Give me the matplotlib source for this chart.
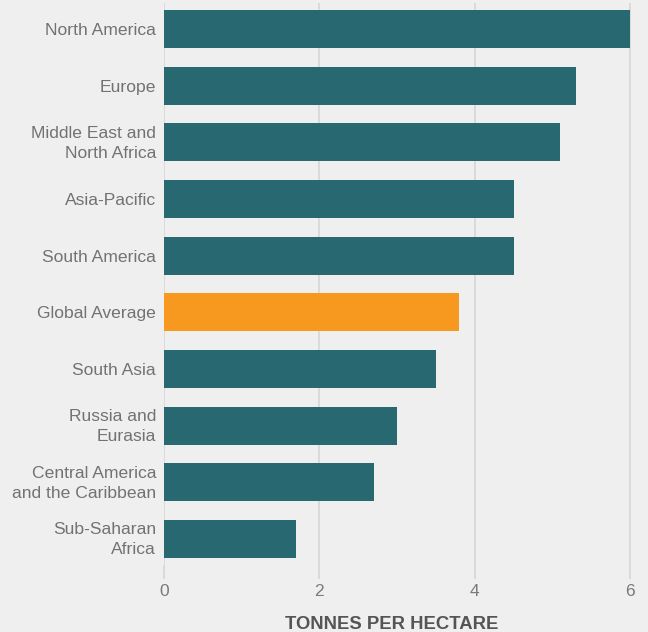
import matplotlib
matplotlib.use("Agg")
import matplotlib.pyplot as plt
import matplotlib.transforms as mtransforms

categories = ["North America", "Europe", "Middle East and\nNorth Africa", "Asia-Pacific",
              "South America", "Global Average", "South Asia", "Russia and\nEurasia",
              "Central America\nand the Caribbean", "Sub-Saharan\nAfrica"]
values = [6.0, 5.3, 5.1, 4.5, 4.5, 3.8, 3.5, 3.0, 2.7, 1.7]
highlight = "Global Average"
xticks = [0, 2, 4, 6]

plt.rcParams['font.family'] = ['Liberation Sans', 'DejaVu Sans']
bg = "#efefef"
fig = plt.figure(figsize=(6.48, 6.32), dpi=100, facecolor=bg)
ax = fig.add_axes([164/648, 1-565/632, (631-164)/648, (565-3)/632], facecolor=bg)

colors = ["#f7981f" if c == highlight else "#286870" for c in categories]
ypos = list(range(len(categories)))
ax.barh(ypos, values, height=0.67, color=colors, zorder=2)
ax.set_ylim(len(categories)-0.54, -0.46)
ax.set_xlim(0, 6.01)
ax.set_yticks(ypos)
ax.set_yticklabels([""] * len(categories))
for y, c in zip(ypos, categories):
    dy = 3/100 if "\n" in c else 0
    tr = ax.get_yaxis_transform() + mtransforms.ScaledTranslation(-8/100, dy, fig.dpi_scale_trans)
    ax.text(0, y, c, transform=tr, fontsize=12.6, color="#727272", ha="right",
            va="center_baseline", multialignment="right", linespacing=1.42)
ax.set_xticks(xticks)
ax.set_xticklabels([str(t) for t in xticks], fontsize=12.5, color="#7a7a7a")
ax.tick_params(axis="y", length=0)
ax.tick_params(axis="x", length=10, width=1.2, color="#d6d6d6", pad=4)
ax.grid(axis="x", color="#d6d6d6", linewidth=1.2, zorder=0)
for s in ax.spines.values():
    s.set_visible(False)
ax.set_xlabel("TONNES PER HECTARE", fontsize=13.3, fontweight="bold", color="#555555")
ax.xaxis.set_label_coords(0.488, -0.091)
fig.savefig("out.png", dpi=100, facecolor=bg)
